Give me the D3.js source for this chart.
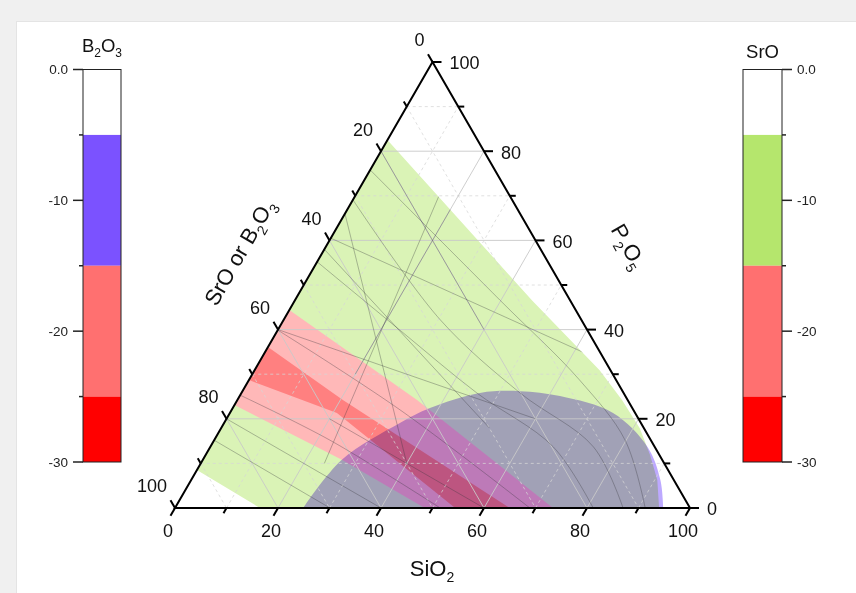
<!DOCTYPE html>
<html><head><meta charset="utf-8">
<script src="https://cdn.jsdelivr.net/npm/d3@7"></script>
<style>
html,body{margin:0;padding:0;background:#efefef;}
svg{display:block;font-family:"Liberation Sans",Arial,sans-serif;}
</style></head><body>
<svg id="chart" width="856" height="593"></svg>
<script>
// ---------- data ----------
// compositions are [SiO2, P2O5, SrO or B2O3] in mol %
const axisTicks = [0, 20, 40, 60, 80, 100];
const axisMinorTicks = [10, 30, 50, 70, 90];
const gridMajor = [20, 40, 60, 80];
const gridMinor = [10, 30, 50, 70, 90];

// SrO field: data domain (level -5 .. -15)
const srOuter = [[0,82.5,17.5],[0,8.5,91.5],[16.5,0,83.5],[94,0,6],[90.5,6.3,3.2],
  [86.3,11.9,1.8],[81.3,17.9,0.8],[74.7,24.2,1.1],[67,30.9,2.1],[46,46.6,7.4]];
// SrO field: level -15 .. -25
const srMid = [[0,44.4,55.6],[34.9,24.2,40.9],[73.4,0,26.6],[48.5,0,51.5],[27,10.8,62.2],[0,23.1,76.9]];
// SrO field: level -25 .. -30
const srCore = [[0,36.1,63.9],[20.5,24.2,55.3],[65,0,35],[54.4,0,45.6],[20.8,21.3,57.9],[0,28.7,71.3]];
// B2O3 field: level -5 .. -15 (curved boundary, closed along the SiO2 edge)
const b2Region = [[24.9,0,75.1],[27,10.8,62.2],[34.2,19.1,46.7],[38.3,22.4,39.3],[46.3,25.8,27.9],
  [53.9,26.2,19.9],[62.2,25.1,12.7],[74.4,21.3,4.3],[84.9,13.7,1.4],[91.1,6.3,2.6],[94.8,0,5.2]];

// contour lines of the SrO field
const srContourLines = [
  [[0,75.8,24.2],[39.8,46.6,13.6],[64.2,28.7,7.1],[79.8,15.2,5],[91.3,0,8.7]],
  [[0,69.1,30.9],[30.4,42.2,27.4],[54.1,25.8,20.1],[74.4,13.7,11.9],[87,0,13]],
  [[0,55.2,44.8],[23.7,39.9,36.4],[45.7,25.8,28.5],[66.6,13.7,19.7],[81.2,0,18.8]],
  [[0,39.9,60.1],[32.7,22,45.3],[68.9,0,31.1]],
  [[0,25.3,74.7],[22.5,15.2,62.3],[51.5,0,48.5]],
  [[0,15.2,84.8],[30.1,0,69.9]]
];
// triangulation edges between measured compositions
const meshEdges = [
  [[0,80,20],[40,40,20]],
  [[0,58,42],[52,18,30]],
  [[0,66,34],[40,10,50]],
  [[16,72,12],[24,10,66]],
  [[0,60.5,39.5],[64,34,2]],
  [[0,40,60],[60,20,20]],
  [[0,20,80],[40,0,60]],
  [[20,20,60],[60,0,40]],
  [[20,70,10],[20,30,50]]
];

// colour scales
const levelBreaks = [0, -5, -15, -25, -30];
const b2o3Colors = ["#ffffff", "#7b52ff", "#ff7070", "#ff0000"];
const sroColors = ["#ffffff", "#b5e66d", "#ff7070", "#ff0000"];
const barTicks = [0, -10, -20, -30];
const barTickLabels = ["0.0", "-10", "-20", "-30"];
const barMinorTicks = [-5, -15, -25];

// ---------- drawing ----------
const svg = d3.select("#chart");

// page panel
svg.append("rect").attr("x", 0).attr("y", 0).attr("width", 856).attr("height", 593).attr("fill", "#f0f0f0");
svg.append("rect").attr("x", 16).attr("y", 21).attr("width", 840).attr("height", 572).attr("fill", "#e4e4e4");
svg.append("rect").attr("x", 17).attr("y", 22).attr("width", 839).attr("height", 571).attr("fill", "#ffffff");

// ternary projection: horizontal position from SiO2 + P2O5/2, vertical from P2O5
const hx = d3.scaleLinear().domain([0, 100]).range([175, 690]);
const hy = d3.scaleLinear().domain([0, 100]).range([508, 62]);
const proj = d => [hx(d[0] + d[1] / 2), hy(d[1])];
const poly = pts => "M" + pts.map(p => proj(p).join(",")).join("L") + "Z";
const smooth = d3.line().x(d => proj(d)[0]).y(d => proj(d)[1]).curve(d3.curveCatmullRom.alpha(0.5));

// SrO filled contour (multiplied onto the page)
const srLayer = svg.append("g").style("mix-blend-mode", "multiply");
const tint = c => d3.interpolateRgb(c, "#ffffff")(0.5);
srLayer.append("path").attr("d", poly(srOuter)).attr("fill", tint(sroColors[1]));
srLayer.append("path").attr("d", poly(srMid)).attr("fill", tint(sroColors[2]));
srLayer.append("path").attr("d", poly(srCore)).attr("fill", d3.interpolateRgb(sroColors[3], "#ffffff")(0.5));

// B2O3 filled contour
const b2Layer = svg.append("g").style("mix-blend-mode", "multiply");
b2Layer.append("path").attr("d", smooth(b2Region) + "Z").attr("fill", tint(b2o3Colors[1]));

// grid over the fills
const grid = svg.append("g");
function gridLine(a, b, cls) {
  const p = proj(a), q = proj(b);
  const l = grid.append("line").attr("x1", p[0]).attr("y1", p[1]).attr("x2", q[0]).attr("y2", q[1])
    .attr("stroke", cls === "major" ? "#c9c9c9" : "#d6d6d6").attr("stroke-width", 1)
    .attr("stroke-opacity", cls === "major" ? 0.9 : 0.75);
  if (cls !== "major") l.attr("stroke-dasharray", "3,3");
}
gridMinor.forEach(v => {
  gridLine([0, v, 100 - v], [100 - v, v, 0], "minor");
  gridLine([v, 0, 100 - v], [v, 100 - v, 0], "minor");
  gridLine([0, 100 - v, v], [100 - v, 0, v], "minor");
});
gridMajor.forEach(v => {
  gridLine([0, v, 100 - v], [100 - v, v, 0], "major");
  gridLine([v, 0, 100 - v], [v, 100 - v, 0], "major");
  gridLine([0, 100 - v, v], [100 - v, 0, v], "major");
});

// contour lines and mesh, kept inside the data domain
svg.append("clipPath").attr("id", "domain").append("path").attr("d", poly(srOuter));
const lines = svg.append("g").attr("clip-path", "url(#domain)")
  .attr("fill", "none").attr("stroke", "rgba(55,55,60,0.42)").attr("stroke-width", 0.8);
srContourLines.forEach(c => lines.append("path").attr("d", smooth(c)));
meshEdges.forEach(e => {
  const p = proj(e[0]), q = proj(e[1]);
  lines.append("line").attr("x1", p[0]).attr("y1", p[1]).attr("x2", q[0]).attr("y2", q[1]);
});

// triangle frame
svg.append("path").attr("d", poly([[0, 0, 100], [100, 0, 0], [0, 100, 0]]))
  .attr("fill", "none").attr("stroke", "#000").attr("stroke-width", 2).attr("stroke-linejoin", "miter");

// axes: position on edge, outward tick direction, label placement
const axes = [
  { at: v => [v, 0, 100 - v], dir: [-0.5, 0.866], lab: [-7, 23], anchor: "middle" },   // SiO2
  { at: v => [100 - v, v, 0], dir: [1, 0], lab: [17, 1], anchor: "start" },             // P2O5
  { at: v => [0, 100 - v, v], dir: [-0.5, -0.866], lab: [-8, -22], anchor: "end" }       // SrO or B2O3
];
axes.forEach(ax => {
  const g = svg.append("g");
  const tick = (v, len) => {
    const p = proj(ax.at(v));
    g.append("line").attr("x1", p[0]).attr("y1", p[1])
      .attr("x2", p[0] + ax.dir[0] * len).attr("y2", p[1] + ax.dir[1] * len)
      .attr("stroke", "#000").attr("stroke-width", 2);
  };
  axisTicks.forEach(v => {
    tick(v, 9);
    const p = proj(ax.at(v));
    g.append("text").attr("x", p[0] + ax.lab[0]).attr("y", p[1] + ax.lab[1]).attr("dy", "0.35em")
      .attr("text-anchor", ax.anchor).attr("font-size", 18).attr("fill", "#111").text(v);
  });
  axisMinorTicks.forEach(v => tick(v, 6));
});

// titles with subscripts
function chemTitle(g, parts, size, subSize, shift) {
  const t = g.append("text").attr("text-anchor", "middle").attr("font-size", size).attr("fill", "#111");
  let down = false;
  parts.forEach(([s, sub]) => {
    const ts = t.append("tspan").text(s);
    if (sub && !down) { ts.attr("dy", shift).attr("font-size", subSize); down = true; }
    else if (!sub && down) { ts.attr("dy", -shift); down = false; }
    else if (sub) ts.attr("font-size", subSize);
  });
  return t;
}
chemTitle(svg.append("g").attr("transform", "translate(432,576)"),
  [["SiO"], ["2", true]], 22, 14, 6);
chemTitle(svg.append("g").attr("transform", "translate(246,256) rotate(-60)"),
  [["SrO or B"], ["2", true], ["O"], ["3", true]], 22, 14, 6);
chemTitle(svg.append("g").attr("transform", "translate(622,250) rotate(60)"),
  [["P"], ["2", true], ["O"], ["5", true]], 22, 14, 6);

// colour bars
const by = d3.scaleLinear().domain([0, -30]).range([69.5, 462]);
function colorBar(x0, w, colors, side, title) {
  const g = svg.append("g");
  for (let i = 0; i < colors.length; i++) {
    g.append("rect").attr("x", x0).attr("y", by(levelBreaks[i]))
      .attr("width", w).attr("height", by(levelBreaks[i + 1]) - by(levelBreaks[i]))
      .attr("fill", colors[i]);
  }
  g.append("rect").attr("x", x0).attr("y", by(0)).attr("width", w).attr("height", by(-30) - by(0))
    .attr("fill", "none").attr("stroke", "#222").attr("stroke-width", 1);
  const ex = side < 0 ? x0 : x0 + w;
  barTicks.forEach((v, i) => {
    g.append("line").attr("x1", ex).attr("x2", ex + side * 10).attr("y1", by(v)).attr("y2", by(v))
      .attr("stroke", "#222").attr("stroke-width", 1.5);
    g.append("text").attr("x", ex + side * 15).attr("y", by(v)).attr("dy", "0.35em")
      .attr("text-anchor", side < 0 ? "end" : "start").attr("font-size", 13.5).attr("fill", "#222")
      .text(barTickLabels[i]);
  });
  barMinorTicks.forEach(v => {
    g.append("line").attr("x1", ex).attr("x2", ex + side * 4).attr("y1", by(v)).attr("y2", by(v))
      .attr("stroke", "#222").attr("stroke-width", 1.5);
  });
  chemTitle(g.append("g").attr("transform", `translate(${x0 + w / 2},${title.y})`), title.parts, 18.5, 12, 5);
}
colorBar(83, 38, b2o3Colors, -1, { y: 52, parts: [["B"], ["2", true], ["O"], ["3", true]] });
colorBar(743, 39, sroColors, 1, { y: 58, parts: [["SrO"]] });
</script>
</body></html>
